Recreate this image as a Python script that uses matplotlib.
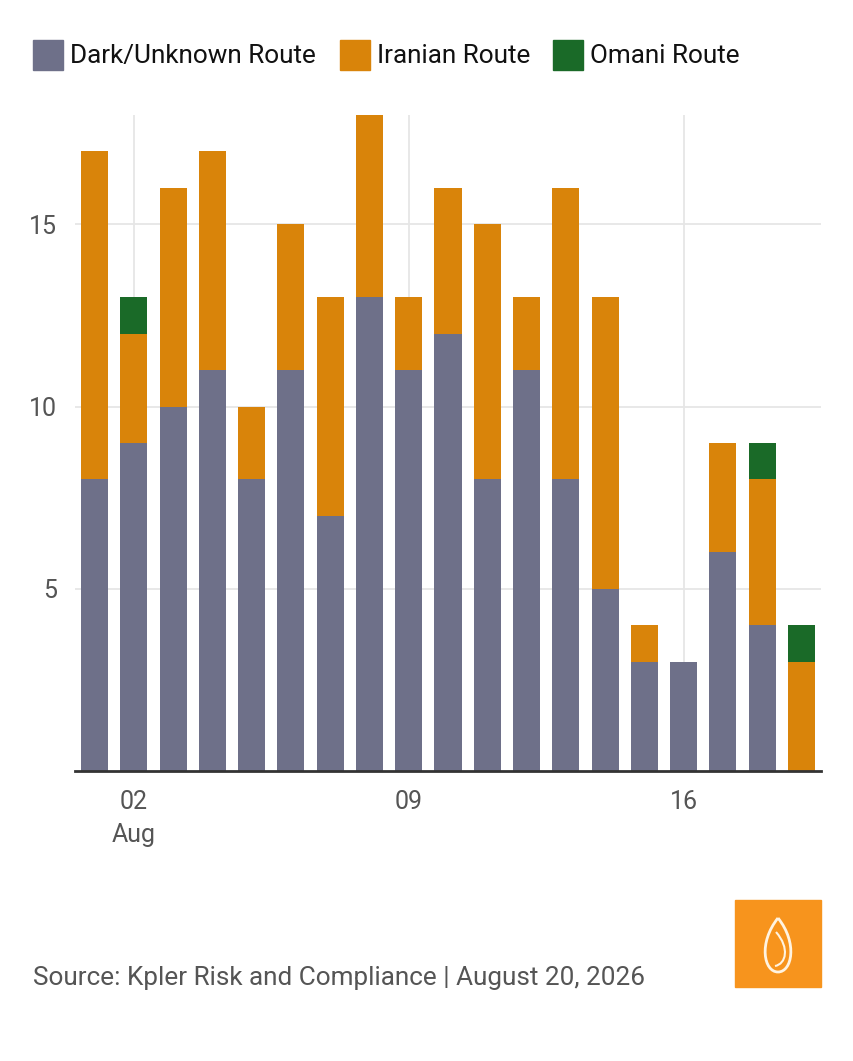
import matplotlib
matplotlib.use("Agg")
import matplotlib.pyplot as plt
from matplotlib.patches import Rectangle, PathPatch
from matplotlib.path import Path
import numpy as np

plt.rcParams['font.family'] = ['Roboto', 'DejaVu Sans']

days = list(range(1, 20))
dark = [8, 9, 10, 11, 8, 11, 7, 13, 11, 12, 8, 11, 8, 5, 3, 3, 6, 4, 0]
iranian = [9, 3, 6, 6, 2, 4, 6, 5, 2, 4, 7, 2, 8, 8, 1, 0, 3, 4, 3]
omani = [0, 1, 0, 0, 0, 0, 0, 0, 0, 0, 0, 0, 0, 0, 0, 0, 0, 1, 1]
series_names = ["Dark/Unknown Route", "Iranian Route", "Omani Route"]
colors = ["#6e7089", "#d9840a", "#1a6a28"]
tick_days = [2, 9, 16]
tick_labels = ["02\nAug", "09", "16"]
yticks = [5, 10, 15]

W, H = 854, 1061
fig = plt.figure(figsize=(W / 100, H / 100), dpi=100)
ax = fig.add_axes([75 / W, 1 - 771 / H, (821 - 75) / W, (771 - 115) / H])

x = np.array(days)
d = np.array(dark)
ir = np.array(iranian)
om = np.array(omani)
bw = 0.69
ax.bar(x, d, bw, color=colors[0], zorder=3)
ax.bar(x, ir, bw, bottom=d, color=colors[1], zorder=3)
ax.bar(x, om, bw, bottom=d + ir, color=colors[2], zorder=3)

ax.set_xlim(0.5, 19.5)
ax.set_ylim(0, 18)
ax.set_yticks(yticks)
ax.set_yticklabels([str(v) for v in yticks])
ax.set_xticks(tick_days)
ax.set_xticklabels(tick_labels, linespacing=1.45)
ax.tick_params(axis='both', length=0, labelsize=18, colors="#555555")
ax.tick_params(axis='x', pad=14)
ax.tick_params(axis='y', pad=13)
for lab in ax.get_yticklabels():
    lab.set_horizontalalignment('right')
ax.grid(True, color="#e6e6e6", linewidth=1.3, zorder=0)
for s in ["top", "right", "left"]:
    ax.spines[s].set_visible(False)
ax.spines["bottom"].set_color("#333333")
ax.spines["bottom"].set_linewidth(2)
ax.spines["bottom"].set_zorder(4)

# legend
leg_x = [33, 340, 553]
for i, name in enumerate(series_names):
    fig.patches.append(Rectangle((leg_x[i] / W, 1 - 70 / H), 30 / W, 30 / H,
                                 transform=fig.transFigure, color=colors[i]))
    fig.text((leg_x[i] + 37) / W, 1 - 56 / H, name, fontsize=18.8,
             va='center', ha='left', color="#111111")

# source
fig.text(33 / W, 1 - 978 / H, "Source: Kpler Risk and Compliance | August 20, 2026",
         fontsize=18.8, color="#555555", va='center', ha='left')

# logo
fig.patches.append(Rectangle((735 / W, 1 - 987 / H), 86 / W, 87 / H,
                             transform=fig.transFigure, color="#f7941d"))
cx, top, bot = 778, 918, 972
verts = [(cx, top), (cx + 20, top + 25), (cx + 14, bot), (cx, bot),
         (cx - 14, bot), (cx - 20, top + 25), (cx, top)]
verts = [(vx / W, 1 - vy / H) for vx, vy in verts]
codes = [Path.MOVETO, Path.CURVE4, Path.CURVE4, Path.CURVE4,
         Path.CURVE4, Path.CURVE4, Path.CURVE4]
fig.patches.append(PathPatch(Path(verts, codes), transform=fig.transFigure,
                             fill=False, edgecolor="#fff3e0", linewidth=2))
inner = [(cx - 2, top + 14), (cx + 12, top + 30), (cx + 8, bot - 8), (cx - 3, bot - 6)]
inner = [(vx / W, 1 - vy / H) for vx, vy in inner]
fig.patches.append(PathPatch(Path(inner, [Path.MOVETO, Path.CURVE4, Path.CURVE4, Path.CURVE4]),
                             transform=fig.transFigure, fill=False,
                             edgecolor="#fff3e0", linewidth=1.5))

fig.savefig("out.png", dpi=100)
